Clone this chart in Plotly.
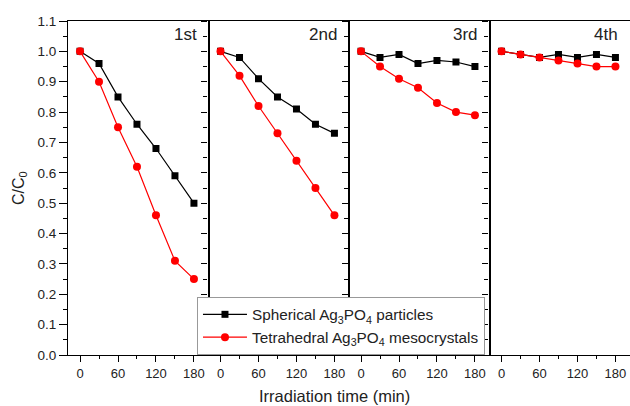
import plotly.graph_objects as go

time_min = [0, 30, 60, 90, 120, 150, 180]
panel_labels = ["1st", "2nd", "3rd", "4th"]
spherical = [
    [1.00, 0.96, 0.85, 0.76, 0.68, 0.59, 0.50],
    [1.00, 0.98, 0.91, 0.85, 0.81, 0.76, 0.73],
    [1.00, 0.98, 0.99, 0.96, 0.97, 0.965, 0.95],
    [1.00, 0.99, 0.98, 0.99, 0.98, 0.99, 0.98],
]
tetrahedral = [
    [1.00, 0.90, 0.75, 0.62, 0.46, 0.31, 0.25],
    [1.00, 0.92, 0.82, 0.73, 0.64, 0.55, 0.46],
    [1.00, 0.95, 0.91, 0.88, 0.83, 0.80, 0.79],
    [1.00, 0.99, 0.98, 0.97, 0.96, 0.95, 0.95],
]
x_ticks = [0, 60, 120, 180]
name_sph = "Spherical Ag<sub>3</sub>PO<sub>4</sub> particles"
name_tet = "Tetrahedral Ag<sub>3</sub>PO<sub>4</sub> mesocrystals"

FONT = "Liberation Sans, Arial, sans-serif"
TXT = "#222222"

fig = go.Figure()
for i in range(4):
    sfx = "" if i == 0 else str(i + 1)
    fig.add_trace(go.Scatter(
        x=time_min, y=spherical[i], mode="lines+markers", name=name_sph,
        line=dict(color="black", width=1.2),
        marker=dict(symbol="square", size=7, color="black"),
        xaxis="x" + sfx, yaxis="y" + sfx, showlegend=(i == 0)))
for i in range(4):
    sfx = "" if i == 0 else str(i + 1)
    fig.add_trace(go.Scatter(
        x=time_min, y=tetrahedral[i], mode="lines+markers", name=name_tet,
        line=dict(color="red", width=1.2),
        marker=dict(symbol="circle", size=8, color="red"),
        xaxis="x" + sfx, yaxis="y" + sfx, showlegend=(i == 0)))

layout = dict(
    width=630, height=406,
    margin=dict(l=68, r=0, t=21, b=51),
    paper_bgcolor="white", plot_bgcolor="white",
    font=dict(family=FONT, size=13, color=TXT),
    legend=dict(x=0.2295, y=0.174, xanchor="left", yanchor="top",
                bgcolor="white", bordercolor="#999999", borderwidth=1,
                font=dict(size=15.3, color=TXT), tracegroupgap=0,
                itemwidth=44),
)
for i in range(4):
    sfx = "" if i == 0 else str(i + 1)
    layout["xaxis" + sfx] = dict(
        domain=[i * 0.25, (i + 1) * 0.25], range=[-19, 203],
        anchor="y" + sfx, tickvals=x_ticks, ticks="outside", ticklen=6,
        tickcolor="black", showline=True, linecolor="black", linewidth=1.2,
        mirror=True, showgrid=False, zeroline=False,
        minor=dict(tickvals=[30, 90, 150], ticks="outside", ticklen=3,
                   tickcolor="black", showgrid=False),
        tickfont=dict(size=13, color=TXT))
    layout["yaxis" + sfx] = dict(
        range=[0, 1.1], anchor="x" + sfx, dtick=0.1, tick0=0,
        ticks="outside", ticklen=(8 if i == 0 else 6), tickcolor="black",
        showline=True, linecolor="black", linewidth=1.2,
        mirror=(i < 3), showgrid=False, zeroline=False,
        showticklabels=(i == 0), tickformat=".1f",
        minor=dict(dtick=0.05, tick0=0, ticks="outside", ticklen=4,
                   tickcolor="black", showgrid=False),
        tickfont=dict(size=13.5, color=TXT))

annotations = []
for i, lab in enumerate(panel_labels):
    annotations.append(dict(
        text=lab, xref="paper", yref="paper",
        x=(i + 1) * 0.25 - 0.017, y=0.995, xanchor="right", yanchor="top",
        showarrow=False, font=dict(size=17, color=TXT)))
annotations.append(dict(
    text="Irradiation time (min)", xref="paper", yref="paper",
    x=0.475, y=-0.09, xanchor="center", yanchor="top",
    showarrow=False, font=dict(size=16.5, color=TXT)))
annotations.append(dict(
    text="C/C<sub>0</sub>", xref="paper", yref="paper",
    x=-0.087, y=0.5, xanchor="center", yanchor="middle", textangle=-90,
    showarrow=False, font=dict(size=16, color=TXT)))
layout["annotations"] = annotations

fig.update_layout(**layout)
fig.write_html("out.html")
